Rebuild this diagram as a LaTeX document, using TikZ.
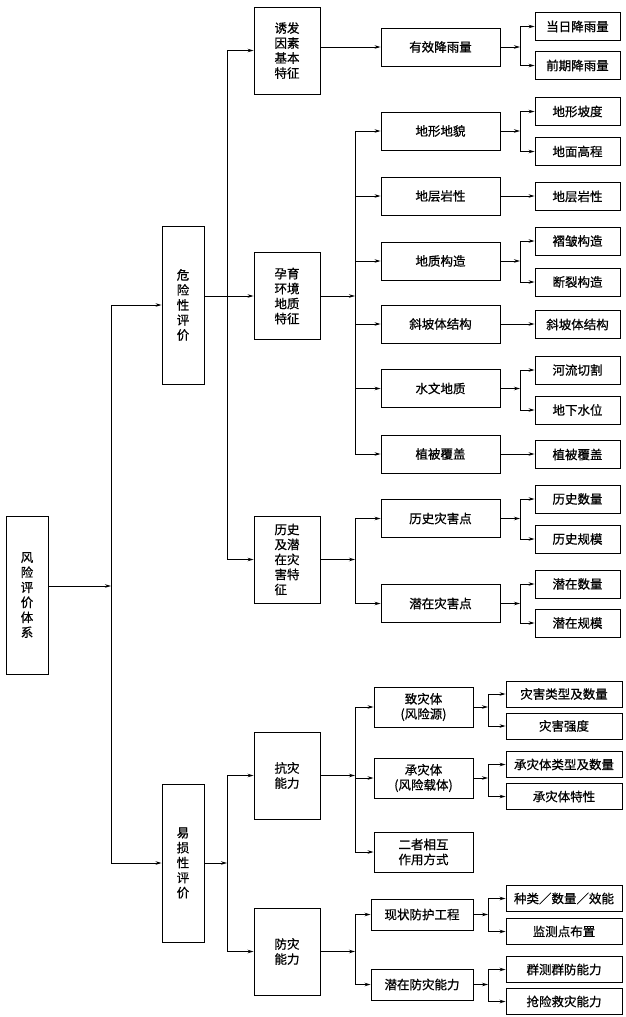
\documentclass[tikz,border=0pt]{standalone}
\usepackage{fontspec}
\setmainfont{Noto Sans CJK SC}[FakeBold=0.7]
\usetikzlibrary{arrows.meta}

\begin{document}
\begin{tikzpicture}[x=1pt, y=-1pt, line width=0.9pt,
		font=\fontsize{12.5}{15}\selectfont,
		box/.style={draw, line width=0.9pt, inner sep=0pt, align=center},
		col/.style={box, minimum width=42pt, minimum height=158pt},
		cat/.style={box, minimum width=66pt, minimum height=87pt},
		item/.style={box, minimum width=119pt, minimum height=38pt},
		leaf/.style={box, minimum width=85pt, minimum height=28pt},
		lowitem/.style={box, minimum width=99pt, minimum height=40pt},
		previtem/.style={box, minimum width=102pt, minimum height=31pt},
		lowleaf/.style={box, minimum width=116pt, minimum height=26pt},
		arr/.style={-{Stealth[length=6pt, width=3.5pt]}}]
		\useasboundingbox (0,0) rectangle (626,1017);

		% bus lines
		\coordinate (bA) at (111,0);
		\coordinate (bB) at (227,0);
		\coordinate (bC) at (355,0);
		\coordinate (bD) at (520,0);
		\coordinate (bE) at (488,0);

		% first two levels
		\node[col] (root) at (27,595) {风\\险\\评\\价\\体\\系};
		\node[col] (haz) at (183,305) {危\\险\\性\\评\\价};
		\node[col] (vuln) at (183,863) {易\\损\\性\\评\\价};

		\node[cat] (trig) at (287,50.5) {诱发\\因素\\基本\\特征};
		\node[cat] (env) at (287,296) {孕育\\环境\\地质\\特征};
		\node[cat, align=left] (hist) at (287,559.5) {历史\\及潜\\在灾\\害特\\征};
		\node[cat] (resist) at (287,775.5) {抗灾\\能力};
		\node[cat] (prev) at (287,951.5) {防灾\\能力};

		% hazard items
		\node[item] (rain) at (440.5,47) {有效降雨量};
		\node[item] (geo) at (440.5,131) {地形地貌};
		\node[item] (strat) at (440.5,196) {地层岩性};
		\node[item] (struct) at (440.5,261) {地质构造};
		\node[item] (slope) at (440.5,324) {斜坡体结构};
		\node[item] (hydro) at (440.5,388.5) {水文地质};
		\node[item] (veg) at (440.5,454) {植被覆盖};
		\node[item] (histpt) at (440.5,518.5) {历史灾害点};
		\node[item] (potpt) at (440.5,603.5) {潜在灾害点};

		\node[leaf] (daily) at (577.5,26.5) {当日降雨量};
		\node[leaf] (prior) at (577.5,65.5) {前期降雨量};
		\node[leaf] (grad) at (577.5,111.5) {地形坡度};
		\node[leaf] (elev) at (577.5,151.5) {地面高程};
		\node[leaf] (lith) at (577.5,196.5) {地层岩性};
		\node[leaf] (fold) at (577.5,241) {褶皱构造};
		\node[leaf] (fault) at (577.5,282) {断裂构造};
		\node[leaf] (slope2) at (577.5,324.5) {斜坡体结构};
		\node[leaf] (river) at (577.5,370) {河流切割};
		\node[leaf] (water) at (577.5,410) {地下水位};
		\node[leaf] (veg2) at (577.5,454.5) {植被覆盖};
		\node[leaf] (hnum) at (577.5,499) {历史数量};
		\node[leaf] (hscale) at (577.5,539) {历史规模};
		\node[leaf] (pnum) at (577.5,584) {潜在数量};
		\node[leaf] (pscale) at (577.5,623) {潜在规模};

		% vulnerability items
		\node[lowitem] (hazsrc) at (423.5,707) {致灾体\\(风险源)};
		\node[lowitem] (bearer) at (423.5,778) {承灾体\\(风险载体)};
		\node[lowitem] (inter) at (423.5,852) {二者相互\\作用方式};
		\node[previtem] (engin) at (422,914.5) {现状防护工程};
		\node[previtem] (potcap) at (422,984.5) {潜在防灾能力};

		\node[lowleaf] (type) at (564,694) {灾害类型及数量};
		\node[lowleaf] (inten) at (564,726) {灾害强度};
		\node[lowleaf] (btype) at (564,764.5) {承灾体类型及数量};
		\node[lowleaf] (bprop) at (564,796.5) {承灾体特性};
		\node[lowleaf] (kind) at (564,898.5) {种类／数量／效能};
		\node[lowleaf] (monit) at (564,931.5) {监测点布置};
		\node[lowleaf] (group) at (564,969.5) {群测群防能力};
		\node[lowleaf] (rescue) at (564,1001.5) {抢险救灾能力};

		% root
		\draw[arr] (root.east |- 0,586) -- (bA |- 0,586);
		\draw[arr] (bA |- vuln.west) |- (haz.west);
		\draw[arr] (bA |- haz.west) |- (vuln.west);

		% hazard
		\draw[arr] (haz.east |- env.west) -- (env.west);
		\draw[arr] (bB |- hist.west) |- (trig.west);
		\draw[arr] (bB |- trig.west) |- (hist.west);
		\draw[arr] (trig.east |- rain.west) -- (rain.west);

		\draw[arr] (env.east) -- (env.east -| bC);
		\draw (bC |- geo.west) -- (bC |- veg.west);
		\foreach \n in {geo,strat,struct,slope,hydro,veg}
			\draw[arr] (bC |- \n.west) -- (\n.west);

		\draw[arr] (hist.east) -- (hist.east -| bC);
		\draw[arr] (bC |- potpt.west) |- (histpt.west);
		\draw[arr] (bC |- histpt.west) |- (potpt.west);

		\foreach \p/\a/\b in {rain/daily/prior, geo/grad/elev, struct/fold/fault,
				hydro/river/water, histpt/hnum/hscale, potpt/pnum/pscale} {
			\draw[arr] (\p.east) -- (\p.east -| bD);
			\draw[arr] (bD |- \b.west) |- (\a.west);
			\draw[arr] (bD |- \a.west) |- (\b.west);
		}
		\foreach \p/\a in {strat/lith, slope/slope2, veg/veg2}
			\draw[arr] (\p.east) -- (\p.east -| \a.west);

		% vulnerability
		\draw[arr] (vuln.east) -- (vuln.east -| bB);
		\draw[arr] (bB |- prev.west) |- (resist.west);
		\draw[arr] (bB |- resist.west) |- (prev.west);

		\draw[arr] (resist.east) -- (resist.east -| bC);
		\draw (bC |- hazsrc.west) -- (bC |- inter.west);
		\foreach \n in {hazsrc,bearer,inter}
			\draw[arr] (bC |- \n.west) -- (\n.west);

		\draw[arr] (prev.east) -- (prev.east -| bC);
		\draw[arr] (bC |- potcap.west) |- (engin.west);
		\draw[arr] (bC |- engin.west) |- (potcap.west);

		\foreach \p/\a/\b in {hazsrc/type/inten, bearer/btype/bprop,
				engin/kind/monit, potcap/group/rescue} {
			\draw[arr] (\p.east) -- (\p.east -| bE);
			\draw[arr] (bE |- \b.west) |- (\a.west);
			\draw[arr] (bE |- \a.west) |- (\b.west);
		}
	\end{tikzpicture}
\end{document}
